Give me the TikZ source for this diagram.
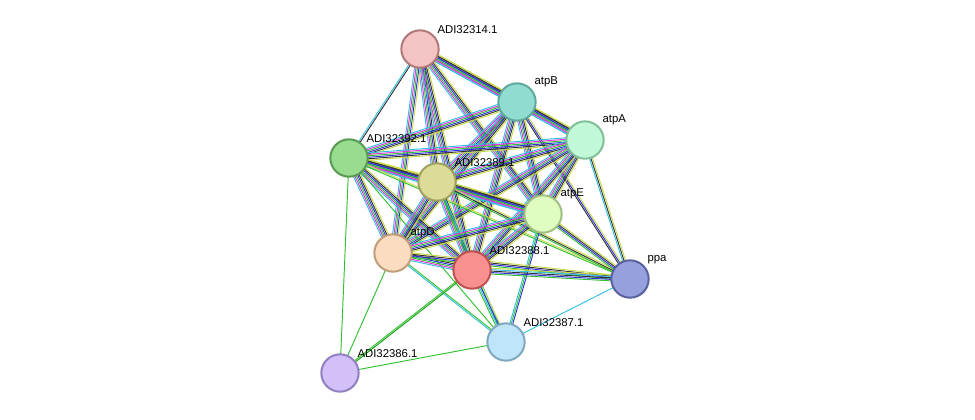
\documentclass[tikz,border=0pt]{standalone}
\usepackage{fontspec}
\setmainfont{Liberation Sans}
\usetikzlibrary{calc,backgrounds}
\definecolor{cy}{HTML}{30C0E0}\definecolor{mg}{HTML}{E030E0}\definecolor{gr}{HTML}{30C030}
\definecolor{bl}{HTML}{3030E0}\definecolor{bk}{HTML}{333333}\definecolor{yl}{HTML}{C8D848}
\definecolor{dg}{HTML}{10A010}
\tikzset{ew/.style={line width=0.7pt},
 prot/.style={circle,minimum size=28pt,inner sep=0pt,line width=1.5pt},
 lab/.style={font=\fontsize{8.5}{10}\selectfont,anchor=south west,inner sep=1pt}}
\newcommand\edge[3]{%
 \edef\mylist{#3}%
 \gdef\nc{0}\foreach \c in \mylist{\xdef\nc{\the\numexpr\nc+1\relax}}%
 \foreach \c [count=\i] in \mylist{\pgfmathsetmacro\myoff{(\i-(\nc+1)/2)*1.1}%
  \draw[\c,ew] ($(#1)!\myoff pt!90:(#2)$) -- ($(#2)!\myoff pt!-90:(#1)$);}}
\def\F{cy,mg,gr,bl,bk,yl}
\begin{document}
\begin{tikzpicture}[x=0.75pt,y=-0.75pt]
\useasboundingbox (0,0) rectangle (975,419);
\node[prot,fill={rgb,255:red,244;green,196;blue,196},draw={rgb,255:red,176;green,120;blue,120}] (p314) at (420,49) {};
\node[prot,fill={rgb,255:red,144;green,220;blue,208},draw={rgb,255:red,95;green,168;blue,156}] (B) at (517,102) {};
\node[prot,fill={rgb,255:red,192;green,248;blue,216},draw={rgb,255:red,128;green,192;blue,152}] (A) at (585,140) {};
\node[prot,fill={rgb,255:red,152;green,220;blue,144},draw={rgb,255:red,90;green,154;blue,80}] (p392) at (349,158) {};
\node[prot,fill={rgb,255:red,220;green,220;blue,152},draw={rgb,255:red,160;green,160;blue,96}] (p389) at (437,182) {};
\node[prot,fill={rgb,255:red,224;green,252;blue,192},draw={rgb,255:red,160;green,192;blue,128}] (E) at (543,214) {};
\node[prot,fill={rgb,255:red,252;green,220;blue,192},draw={rgb,255:red,192;green,156;blue,120}] (D) at (393,253) {};
\node[prot,fill={rgb,255:red,248;green,144;blue,144},draw={rgb,255:red,192;green,80;blue,80}] (p388) at (472,270) {};
\node[prot,fill={rgb,255:red,152;green,160;blue,220},draw={rgb,255:red,88;green,96;blue,160}] (ppa) at (630,279) {};
\node[prot,fill={rgb,255:red,192;green,228;blue,248},draw={rgb,255:red,128;green,168;blue,192}] (p387) at (506,342) {};
\node[prot,fill={rgb,255:red,212;green,192;blue,248},draw={rgb,255:red,144;green,128;blue,192}] (p386) at (340,373) {};
\begin{pgfonlayer}{background}
\edge{p314}{B}{\F}\edge{p314}{A}{\F}\edge{p314}{p392}{cy,bk}\edge{p314}{p389}{\F}
\edge{p314}{E}{\F}\edge{p314}{D}{cy,mg,gr,bl,yl}\edge{p314}{p388}{\F}
\edge{B}{A}{\F}\edge{B}{p392}{\F}\edge{B}{p389}{\F}\edge{B}{E}{\F}\edge{B}{D}{\F}\edge{B}{p388}{\F}\edge{B}{ppa}{bk,bl,yl}
\edge{A}{p392}{\F}\edge{A}{p389}{\F}\edge{A}{E}{\F}\edge{A}{D}{\F}\edge{A}{p388}{\F}\edge{A}{ppa}{cy,bk,yl}
\edge{p392}{p389}{\F}\edge{p392}{E}{\F}\edge{p392}{D}{\F}\edge{p392}{p388}{\F}\edge{p392}{p387}{gr}\edge{p392}{p386}{gr}\edge{p392}{ppa}{gr,yl}
\edge{p389}{E}{\F}\edge{p389}{D}{\F}\edge{p389}{p388}{\F}\edge{p389}{ppa}{gr,bk,yl}\edge{p389}{p387}{gr,cy}
\edge{E}{D}{\F}\edge{E}{p388}{\F}\edge{E}{ppa}{gr,bl,bk,yl}\edge{E}{p387}{cy,gr,bl}
\edge{D}{p388}{\F}\edge{D}{ppa}{gr,bl,bk,yl}\edge{D}{p387}{cy,gr}\edge{D}{p386}{gr}
\edge{p388}{ppa}{gr,bl,bk,cy,yl}\edge{p388}{p387}{gr,cy,bl,yl}\edge{p388}{p386}{gr,dg}
\edge{p387}{ppa}{cy}\edge{p387}{p386}{gr}
\end{pgfonlayer}
\node[lab] (l314) at (436,35) {ADI32314.1};
\node[lab] (lB) at (533,88) {atpB};
\node[lab] (lA) at (601,126) {atpA};
\node[lab] (l392) at (365,144) {ADI32392.1};
\node[lab] (l389) at (453,168) {ADI32389.1};
\node[lab] (lE) at (559,200) {atpE};
\node[lab] (lD) at (409,239) {atpD};
\node[lab] (l388) at (488,256) {ADI32388.1};
\node[lab] (lppa) at (646,265) {ppa};
\node[lab] (l387) at (522,328) {ADI32387.1};
\node[lab] (l386) at (356,359) {ADI32386.1};
\end{tikzpicture}
\end{document}
